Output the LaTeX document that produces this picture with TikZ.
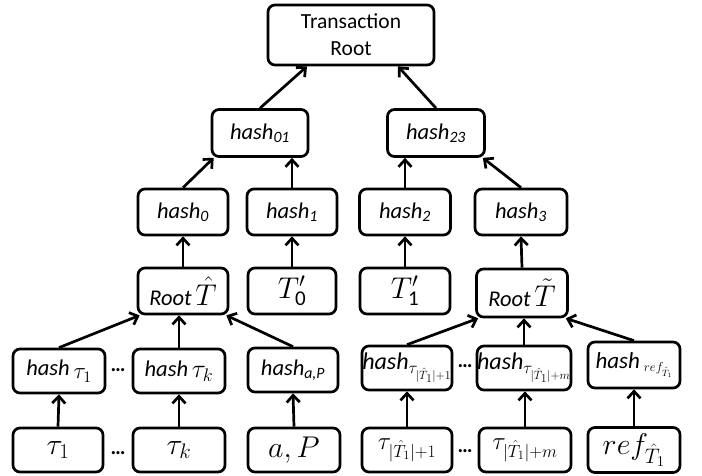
\RequirePackage{fix-cm}
\documentclass[tikz,border=0pt]{standalone}
\usepackage{amsmath}
\usepackage[no-math]{fontspec}
\setmainfont{Carlito}[ItalicFont={Carlito Italic},BoldFont={Carlito Bold}]
\usetikzlibrary{arrows.meta,calc}
\begin{document}
\begin{tikzpicture}[x=1pt,y=-1pt,
  box/.style={draw, line width=2.7pt, rounded corners=7pt, inner sep=0pt, minimum height=46pt, font=\fontsize{22.5}{24}\selectfont},
  arr/.style={line width=2.7pt, -{Straight Barb[length=7pt,width=13pt]}},
  dotsn/.style={inner sep=0pt, font=\bfseries\fontsize{21}{24}\selectfont},
  big/.style={font=\fontsize{30}{36}\selectfont}
]
\useasboundingbox (0,0) rectangle (702,476);
% level 0
\node[box, minimum width=166pt, minimum height=60pt, align=center, font=\fontsize{21.5}{27}\selectfont] (root) at (351,35) {Transaction\\Root};
% level 1
\node[box, minimum width=96pt, minimum height=47pt] (h01) at (260,133) {\textit{hash\textsubscript{01}}};
\node[box, minimum width=97pt, minimum height=47pt] (h23) at (436,133) {\textit{hash\textsubscript{23}}};
% level 2
\node[box, minimum width=90pt] (h0) at (183,212) {\textit{hash\textsubscript{0}}};
\node[box, minimum width=90pt] (h1) at (292,212) {\textit{hash\textsubscript{1}}};
\node[box, minimum width=91pt] (h2) at (405,212) {\textit{hash\textsubscript{2}}};
\node[box, minimum width=92pt] (h3) at (521,212) {\textit{hash\textsubscript{3}}};
% level 3
\node[box, minimum width=90pt] (rt1) at (183,291) {\textit{Root}\,{\fontsize{30}{36}\selectfont$\hat{T}$}};
\node[box, minimum width=88pt, big] (t0) at (292,291) {$T'_{\text{0}}$};
\node[box, minimum width=90pt, big] (t1) at (405,291) {$T'_{\text{1}}$};
\node[box, minimum width=91pt, minimum height=48pt] (rt2) at (522,293) {\textit{Root}\,{\fontsize{30}{36}\selectfont$\tilde{T}$}};
% level 4
\node[box, minimum width=92pt, minimum height=44pt] (ht1) at (59,371) {\textit{hash}\,{\fontsize{23}{28}\selectfont\raisebox{-3pt}{$\tau_1$}}};
\node[box, minimum width=92pt, minimum height=44pt] (htk) at (179,371) {\textit{hash}\,{\fontsize{26}{30}\selectfont\raisebox{-1pt}{$\tau_k$}}};
\node[box, minimum width=90pt, minimum height=44pt] (hap) at (293,370) {\textit{hash\textsubscript{a,P}}};
\node[box, minimum width=90pt, minimum height=44pt, font=\fontsize{24}{26}\selectfont] (htm1) at (407,368) {\textit{hash}$_{\tau_{|\hat{T}_1|+1}}$};
\node[box, minimum width=92pt, minimum height=44pt, font=\fontsize{24}{26}\selectfont] (htm) at (524,368) {\textit{hash}$_{\tau_{|\hat{T}_1|+m}}$};
\node[box, minimum width=92pt, minimum height=46pt, font=\fontsize{23}{26}\selectfont] (href) at (634,365) {\textit{hash}\,{\fontsize{13}{16}\selectfont\raisebox{-3pt}{$ref_{\hat{T}_1}$}}};
% level 5
\node[box, minimum width=90pt, minimum height=44pt, big] (t1b) at (58,450) {$\tau_1$};
\node[box, minimum width=92pt, minimum height=44pt, big] (tkb) at (179,450) {$\tau_k$};
\node[box, minimum width=92pt, minimum height=44pt, big] (apb) at (294,450) {$a,P$};
\node[box, minimum width=90pt, minimum height=44pt, font=\fontsize{25}{30}\selectfont] (tm1b) at (407,450) {$\tau_{|\hat{T}_1|+1}$};
\node[box, minimum width=92pt, minimum height=44pt, font=\fontsize{25}{30}\selectfont] (tmb) at (525,450) {$\tau_{|\hat{T}_1|+m}$};
\node[box, minimum width=92pt, minimum height=45pt, font=\fontsize{30}{36}\selectfont] (refb) at (634,450) {$ref_{\hat{T}_1}$};
% dots
\node[dotsn] (d1) at (118,370) {…};
\node[dotsn] (d2) at (118,453) {…};
\node[dotsn] (d3) at (465,366) {…};
\node[dotsn] (d4) at (465,451) {…};
% arrows
\draw[arr] (h01.north) -- ($(root.south)+(-44,0)$);
\draw[arr] (h23.north) -- ($(root.south)+(47,0)$);
\draw[arr] (h0.north) -- ($(h01.south west)+(3,0)$);
\draw[arr] (h1.north) -- (h1.north |- h01.south);
\draw[arr] (h2.north) -- (h2.north |- h23.south);
\draw[arr] (h3.north) -- ($(h23.south east)+(-3,0)$);
\draw[arr] (rt1.north) -- (h0.south);
\draw[arr] (t0.north) -- (h1.south);
\draw[arr] (t1.north) -- (h2.south);
\draw[arr] (rt2.north) -- (h3.south);
\draw[arr] (ht1.north) -- ($(rt1.south west)+(3,0)$);
\draw[arr] (htk.north) -- (htk.north |- rt1.south);
\draw[arr] (hap.north) -- ($(rt1.south east)+(-3,0)$);
\draw[arr] (htm1.north) -- ($(rt2.south west)+(3,0)$);
\draw[arr] (htm.north) -- (htm.north |- rt2.south);
\draw[arr] (href.north) -- ($(rt2.south east)+(-3,0)$);
\draw[arr] (t1b.north) -- (ht1.south);
\draw[arr] (tkb.north) -- (htk.south);
\draw[arr] (apb.north) -- (hap.south);
\draw[arr] (tm1b.north) -- (htm1.south);
\draw[arr] (tmb.north) -- (tmb.north |- htm.south);
\draw[arr] (refb.north) -- (href.south);
\end{tikzpicture}
\end{document}
